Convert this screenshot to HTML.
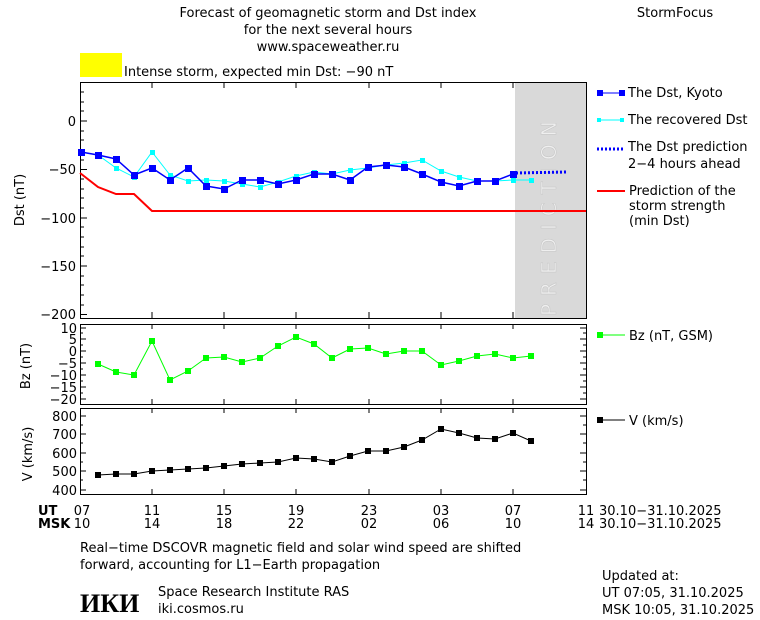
<!DOCTYPE html><html><head><meta charset="utf-8"><style>body{margin:0;background:#fff}svg{display:block}text{font-family:"DejaVu Sans","Liberation Sans",sans-serif;font-size:13px;fill:#000}</style></head><body>
<svg width="760" height="620" viewBox="0 0 760 620" xmlns="http://www.w3.org/2000/svg">
<text x="328" y="17" text-anchor="middle">Forecast of geomagnetic storm and Dst index</text>
<text x="328" y="34" text-anchor="middle">for the next several hours</text>
<text x="328" y="51" text-anchor="middle">www.spaceweather.ru</text>
<text x="675" y="17" text-anchor="middle">StormFocus</text>
<rect x="80" y="53" width="42" height="24" fill="#ffff00"/>
<text x="124" y="76">Intense storm, expected min Dst: −90 nT</text>
<!-- Dst panel -->
<rect x="515" y="82" width="71" height="236" fill="#d9d9d9"/>
<text transform="translate(556,316) rotate(-90)" style="font-size:20px;fill:#efefef;stroke:#c8c8c8;stroke-width:0.6;letter-spacing:8px">PREDICTION</text>
<rect x="80.5" y="82.5" width="506" height="236" fill="none" stroke="#000"/>
<g stroke="#000">
<path d="M80 121h7M80 169.5h7M80 218h7M80 266h7M80 314.5h7M80 92h4M80 102h4M80 111h4M80 131h4M80 140h4M80 150h4M80 160h4M80 179h4M80 189h4M80 198h4M80 208h4M80 227h4M80 237h4M80 247h4M80 256h4M80 276h4M80 285h4M80 295h4M80 305h4"/>
<path d="M152 82v6M224 82v6M296 82v6M369 82v6M441 82v6M513 82v6M152 318v-6M224 318v-6M296 318v-6M369 318v-6M441 318v-6M513 318v-6"/>
</g>
<g text-anchor="end"><text x="76" y="126">0</text><text x="76" y="174">−50</text><text x="76" y="223">−100</text><text x="76" y="271">−150</text><text x="76" y="319">−200</text></g>
<text transform="translate(24,200) rotate(-90)" text-anchor="middle">Dst (nT)</text>
<polyline fill="none" stroke="#ff0000" stroke-width="2" points="80,173 98,187 116,194 134,194 152,211 586,211"/>
<polyline fill="none" stroke="#00ffff" points="81,152 98,155 116,168 134,177 152,152 170,175 188,181 206,180 224,181 242,184 260,187 278,182 296,176 314,172 332,174 350,170 368,168 386,165 404,163 422,160 441,171 459,177 477,181 495,181 513,180 531,180"/>
<g fill="#00ffff"><path d="M79 150h5v5h-5zM96 153h5v5h-5zM114 166h5v5h-5zM132 175h5v5h-5zM150 150h5v5h-5zM168 173h5v5h-5zM186 179h5v5h-5zM204 178h5v5h-5zM222 179h5v5h-5zM240 182h5v5h-5zM258 185h5v5h-5zM276 180h5v5h-5zM294 174h5v5h-5zM312 170h5v5h-5zM330 172h5v5h-5zM348 168h5v5h-5zM366 166h5v5h-5zM384 163h5v5h-5zM402 161h5v5h-5zM420 158h5v5h-5zM439 169h5v5h-5zM457 175h5v5h-5zM475 179h5v5h-5zM493 179h5v5h-5zM511 178h5v5h-5zM529 178h5v5h-5z"/></g>
<polyline fill="none" stroke="#0000ff" stroke-width="1.5" points="81,152 98,155 116,159 134,175 152,168 170,180 188,168 206,186 224,189 242,180 260,180 278,184 296,180 314,174 332,174 350,180 368,167 386,165 404,167 422,174 441,182 459,186 477,181 495,181 513,174"/>
<g fill="#0000ff"><path d="M78 149h7v7h-7zM95 152h7v7h-7zM113 156h7v7h-7zM131 172h7v7h-7zM149 165h7v7h-7zM167 177h7v7h-7zM185 165h7v7h-7zM203 183h7v7h-7zM221 186h7v7h-7zM239 177h7v7h-7zM257 177h7v7h-7zM275 181h7v7h-7zM293 177h7v7h-7zM311 171h7v7h-7zM329 171h7v7h-7zM347 177h7v7h-7zM365 164h7v7h-7zM383 162h7v7h-7zM401 164h7v7h-7zM419 171h7v7h-7zM438 179h7v7h-7zM456 183h7v7h-7zM474 178h7v7h-7zM492 178h7v7h-7zM510 171h7v7h-7z"/></g>
<path d="M516 173 L566 172" stroke="#0000ff" stroke-width="3" stroke-dasharray="2,2" fill="none"/>
<!-- legend -->
<path d="M597 93h27" stroke="#0000ff"/><rect x="597" y="90" width="6" height="6" fill="#0000ff"/><rect x="619" y="90" width="6" height="6" fill="#0000ff"/>
<text x="628" y="97">The Dst, Kyoto</text>
<path d="M597 120h27" stroke="#00ffff"/><rect x="597" y="118" width="4" height="4" fill="#00ffff"/><rect x="620" y="118" width="4" height="4" fill="#00ffff"/>
<text x="628" y="124">The recovered Dst</text>
<path d="M597 149h26" stroke="#0000ff" stroke-width="3" stroke-dasharray="2,2"/>
<text x="628" y="151">The Dst prediction</text><text x="628" y="168">2−4 hours ahead</text>
<path d="M597 191h28" stroke="#ff0000" stroke-width="2"/>
<text x="629" y="195">Prediction of the</text><text x="629" y="210">storm strength</text><text x="629" y="225">(min Dst)</text>
<!-- Bz panel -->
<rect x="80.5" y="324.5" width="506" height="80" fill="none" stroke="#000"/>
<g stroke="#000"><path d="M80 328h6M80 339h6M80 351h6M80 363h6M80 375h6M80 387h6M80 399h6M586 328h-6M586 339h-6M586 351h-6M586 363h-6M586 375h-6M586 387h-6M586 399h-6M80 333h3M80 345h3M80 357h3M80 369h3M80 381h3M80 393h3M586 333h-3M586 345h-3M586 357h-3M586 369h-3M586 381h-3M586 393h-3M152 324v5M224 324v5M296 324v5M369 324v5M441 324v5M513 324v5M152 404v-5M224 404v-5M296 404v-5M369 404v-5M441 404v-5M513 404v-5"/></g>
<g text-anchor="end" style="font-size:12px"><text x="77" y="333">10</text><text x="77" y="344">5</text><text x="77" y="356">0</text><text x="77" y="368">−5</text><text x="77" y="380">−10</text><text x="77" y="392">−15</text><text x="77" y="404">−20</text></g>
<text transform="translate(30,366) rotate(-90)" text-anchor="middle">Bz (nT)</text>
<polyline fill="none" stroke="#00ff00" points="98,364 116,372 134,375 152,341 170,380 188,371 206,358 224,357 242,362 260,358 278,346 296,337 314,344 332,358 350,349 368,348 386,354 404,351 422,351 441,365 459,361 477,356 495,354 513,358 531,356"/>
<g fill="#00ff00"><path d="M95 361h6v6h-6zM113 369h6v6h-6zM131 372h6v6h-6zM149 338h6v6h-6zM167 377h6v6h-6zM185 368h6v6h-6zM203 355h6v6h-6zM221 354h6v6h-6zM239 359h6v6h-6zM257 355h6v6h-6zM275 343h6v6h-6zM293 334h6v6h-6zM311 341h6v6h-6zM329 355h6v6h-6zM347 346h6v6h-6zM365 345h6v6h-6zM383 351h6v6h-6zM401 348h6v6h-6zM419 348h6v6h-6zM438 362h6v6h-6zM456 358h6v6h-6zM474 353h6v6h-6zM492 351h6v6h-6zM510 355h6v6h-6zM528 353h6v6h-6z"/></g>
<path d="M597 335h28" stroke="#00ff00"/><rect x="597" y="332" width="6" height="6" fill="#00ff00"/>
<text x="629" y="340">Bz (nT, GSM)</text>
<!-- V panel -->
<rect x="80.5" y="408.5" width="506" height="86" fill="none" stroke="#000"/>
<g stroke="#000"><path d="M80 416h6M80 434h6M80 453h6M80 471h6M80 490h6M586 416h-6M586 434h-6M586 453h-6M586 471h-6M586 490h-6M80 425h3M80 443h3M80 462h3M80 480h3M586 425h-3M586 443h-3M586 462h-3M586 480h-3M152 408v5M224 408v5M296 408v5M369 408v5M441 408v5M513 408v5M152 494v-5M224 494v-5M296 494v-5M369 494v-5M441 494v-5M513 494v-5"/></g>
<g text-anchor="end"><text x="77" y="421">800</text><text x="77" y="439">700</text><text x="77" y="458">600</text><text x="77" y="476">500</text><text x="77" y="495">400</text></g>
<text transform="translate(32,454) rotate(-90)" text-anchor="middle">V (km/s)</text>
<polyline fill="none" stroke="#000" points="98,475 116,474 134,474 152,471 170,470 188,469 206,468 224,466 242,464 260,463 278,462 296,458 314,459 332,462 350,456 368,451 386,451 404,447 422,440 441,429 459,433 477,438 495,439 513,433 531,441"/>
<g fill="#000"><path d="M95 472h6v6h-6zM113 471h6v6h-6zM131 471h6v6h-6zM149 468h6v6h-6zM167 467h6v6h-6zM185 466h6v6h-6zM203 465h6v6h-6zM221 463h6v6h-6zM239 461h6v6h-6zM257 460h6v6h-6zM275 459h6v6h-6zM293 455h6v6h-6zM311 456h6v6h-6zM329 459h6v6h-6zM347 453h6v6h-6zM365 448h6v6h-6zM383 448h6v6h-6zM401 444h6v6h-6zM419 437h6v6h-6zM438 426h6v6h-6zM456 430h6v6h-6zM474 435h6v6h-6zM492 436h6v6h-6zM510 430h6v6h-6zM528 438h6v6h-6z"/></g>
<path d="M597 420h28" stroke="#000"/><rect x="597" y="417" width="6" height="6" fill="#000"/>
<text x="629" y="425">V (km/s)</text>
<!-- time axis -->
<g style="font-weight:bold;font-size:12px"><text x="38" y="515">UT</text><text x="38" y="528">MSK</text></g>
<g text-anchor="middle"><text x="82" y="515">07</text><text x="152" y="515">11</text><text x="224" y="515">15</text><text x="296" y="515">19</text><text x="369" y="515">23</text><text x="441" y="515">03</text><text x="513" y="515">07</text><text x="586" y="515">11</text>
<text x="82" y="528">10</text><text x="152" y="528">14</text><text x="224" y="528">18</text><text x="296" y="528">22</text><text x="369" y="528">02</text><text x="441" y="528">06</text><text x="513" y="528">10</text><text x="586" y="528">14</text></g>
<text x="599" y="515">30.10−31.10.2025</text><text x="599" y="528">30.10−31.10.2025</text>
<text x="80" y="552">Real−time DSCOVR magnetic field and solar wind speed are shifted</text>
<text x="80" y="569">forward, accounting for L1−Earth propagation</text>
<text x="80" y="612" style="font-size:26px;font-weight:bold;font-family:'Liberation Serif',serif">ИКИ</text>
<text x="158" y="596">Space Research Institute RAS</text>
<text x="158" y="613">iki.cosmos.ru</text>
<text x="602" y="580">Updated at:</text>
<text x="602" y="597">UT  07:05, 31.10.2025</text>
<text x="602" y="614">MSK 10:05, 31.10.2025</text>
</svg></body></html>
